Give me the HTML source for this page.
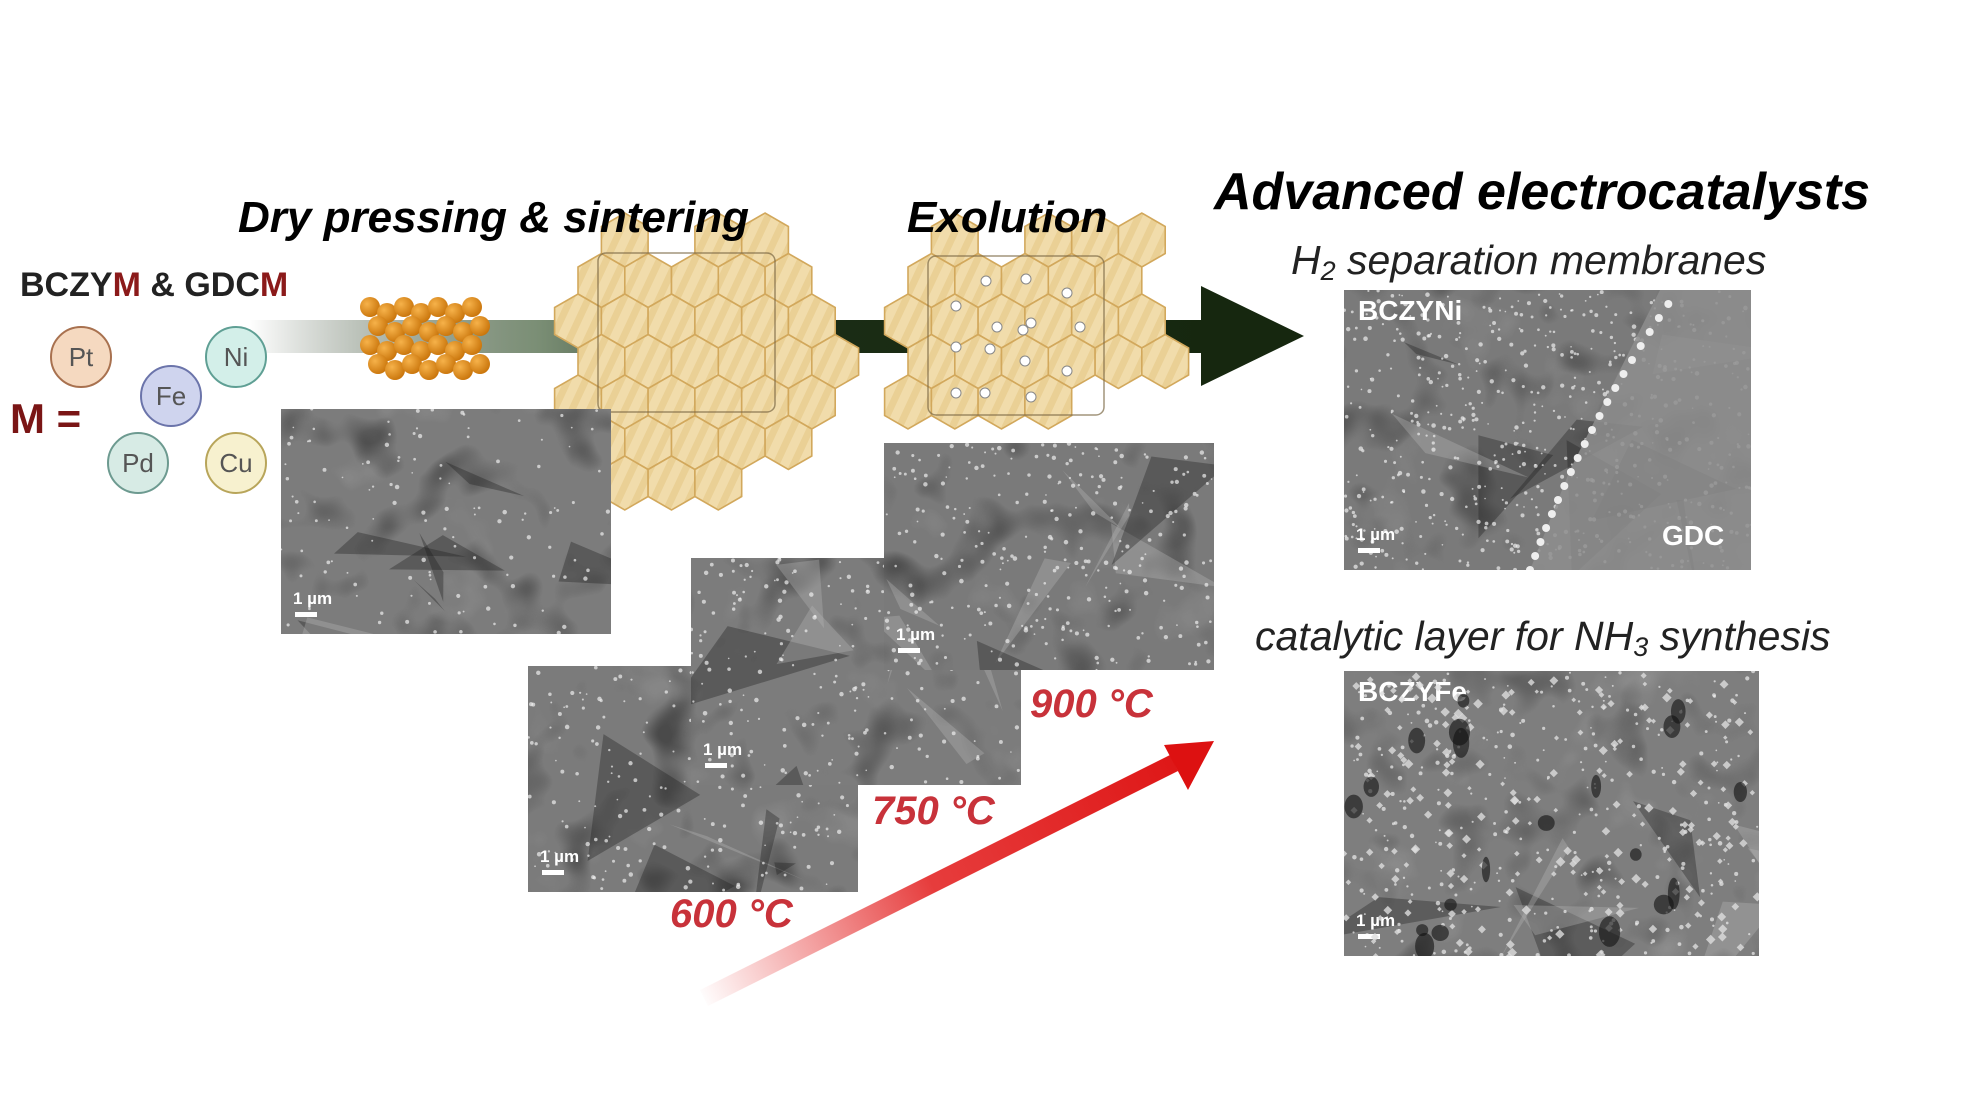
<!DOCTYPE html>
<html><head><meta charset="utf-8"><style>
html,body{margin:0;padding:0;background:#fff}
body{width:1981px;height:1116px;overflow:hidden;position:relative;font-family:"Liberation Sans",sans-serif}
.t{position:absolute;white-space:nowrap;line-height:1}
</style></head><body>
<svg id="s" width="1981" height="1116" viewBox="0 0 1981 1116" style="position:absolute;left:0;top:0">
<defs>
<linearGradient id="ga" x1="0" x2="1" y1="0" y2="0">
<stop offset="0" stop-color="#1b2d16" stop-opacity="0"/>
<stop offset="0.3" stop-color="#6c8266" stop-opacity="0.9"/>
<stop offset="0.55" stop-color="#1b2d16"/>
<stop offset="1" stop-color="#16270f"/>
</linearGradient>
<linearGradient id="gr" x1="700" y1="999" x2="1214" y2="741" gradientUnits="userSpaceOnUse">
<stop offset="0" stop-color="#e21a1a" stop-opacity="0"/>
<stop offset="0.45" stop-color="#e21a1a" stop-opacity="0.85"/>
<stop offset="1" stop-color="#dd1111"/>
</linearGradient>
<pattern id="hp" width="16" height="16" patternUnits="userSpaceOnUse" patternTransform="rotate(25)">
<rect width="16" height="16" fill="#f1dcab"/><rect width="7" height="16" fill="#ead095"/>
</pattern>
<filter id="n1" x="0" y="0" width="100%" height="100%">
<feTurbulence type="fractalNoise" baseFrequency="0.014" numOctaves="3" seed="3"/>
<feColorMatrix type="matrix" values="0 0 0 0 0.05  0 0 0 0 0.05  0 0 0 0 0.05  1.6 1.6 1.6 0 -1.0"/>
</filter>
<filter id="n2" x="0" y="0" width="100%" height="100%">
<feTurbulence type="fractalNoise" baseFrequency="0.02" numOctaves="2" seed="9"/>
<feColorMatrix type="matrix" values="0 0 0 0 0.85  0 0 0 0 0.85  0 0 0 0 0.85  1.4 1.4 1.4 0 -1.0"/>
</filter>
<radialGradient id="orb" cx="0.35" cy="0.35" r="0.7"><stop offset="0" stop-color="#f6b24a"/><stop offset="1" stop-color="#c9740a"/></radialGradient>
</defs>
<rect x="249" y="320" width="960" height="33" fill="url(#ga)"/>
<polygon points="1201,286 1304,336 1201,386" fill="#16270f"/>
<g id="hex1"></g><g id="hex2"></g>
<rect x="598" y="253" width="177" height="159" rx="8" fill="none" stroke="#7a6845" stroke-width="1.5" opacity="0.7"/>
<rect x="928" y="256" width="176" height="159" rx="8" fill="none" stroke="#7a6845" stroke-width="1.5" opacity="0.7"/>
<g id="dots2"></g>
<g id="orbs"></g>
<g font-family="Liberation Sans" font-size="26" text-anchor="middle" fill="#555">
<circle cx="81" cy="357" r="30" fill="#f5d9c0" stroke="#a8714f" stroke-width="2"/><text x="81" y="366">Pt</text>
<circle cx="236" cy="357" r="30" fill="#d3efe9" stroke="#5f9f94" stroke-width="2"/><text x="236" y="366">Ni</text>
<circle cx="171" cy="396" r="30" fill="#cfd4ee" stroke="#6b74aa" stroke-width="2"/><text x="171" y="405">Fe</text>
<circle cx="138" cy="463" r="30" fill="#d7ebe5" stroke="#6d9a90" stroke-width="2"/><text x="138" y="472">Pd</text>
<circle cx="236" cy="463" r="30" fill="#f7f1cf" stroke="#b8a55a" stroke-width="2"/><text x="236" y="472">Cu</text>
</g>
<g id="sems"></g>
<polygon points="700,990 1170,755 1178,771 708,1006" fill="url(#gr)"/>
<polygon points="1214,741 1164,745 1188,790" fill="#dd1111"/>
</svg>
<div class="t" style="left:1214px;top:166px;font-size:52px;font-weight:bold;font-style:italic">Advanced electrocatalysts</div>
<div class="t" style="left:1291px;top:240px;font-size:41px;font-style:italic;color:#222">H<span style="font-size:27px;vertical-align:-6px">2</span> separation membranes</div>
<div class="t" style="left:1255px;top:616px;font-size:41px;font-style:italic;color:#222">catalytic layer for NH<span style="font-size:27px;vertical-align:-6px">3</span> synthesis</div>
<div class="t" style="left:238px;top:196px;font-size:44px;font-weight:bold;font-style:italic">Dry pressing &amp; sintering</div>
<div class="t" style="left:907px;top:196px;font-size:44px;font-weight:bold;font-style:italic">Exolution</div>
<div class="t" style="left:20px;top:268px;font-size:34px;font-weight:bold;color:#222">BCZY<span style="color:#8b1a1a">M</span> &amp; GDC<span style="color:#8b1a1a">M</span></div>
<div class="t" style="left:10px;top:398px;font-size:42px;font-weight:bold;color:#7a1515">M =</div>
<div class="t" style="left:1030px;top:684px;font-size:40px;font-weight:bold;font-style:italic;color:#c8323a">900 °C</div>
<div class="t" style="left:872px;top:791px;font-size:40px;font-weight:bold;font-style:italic;color:#c8323a">750 °C</div>
<div class="t" style="left:670px;top:894px;font-size:40px;font-weight:bold;font-style:italic;color:#c8323a">600 °C</div>
<script>
var NS="http://www.w3.org/2000/svg";
function el(p,n,a){var e=document.createElementNS(NS,n);for(var k in a)e.setAttribute(k,a[k]);p.appendChild(e);return e;}
function hexes(g,x0,y0,cols,rows,skip){
 var R=27,w=R*Math.sqrt(3),dy=R*1.5;
 for(var r=0;r<rows;r++)for(var c=0;c<cols;c++){
  if(skip(c,r))continue;
  var cx=x0+c*w+(r%2?w/2:0), cy=y0+r*dy;
  var pts=[];for(var i=0;i<6;i++){var a=Math.PI/3*i+Math.PI/6;pts.push((cx+R*Math.cos(a)).toFixed(1)+","+(cy+R*Math.sin(a)).toFixed(1));}
  el(g,"polygon",{points:pts.join(" "),fill:"url(#hp)",stroke:"#d2a85c","stroke-width":"1.6"});
 }}
hexes(document.getElementById("hex1"),578,240,6,7,function(c,r){return (r==0&&(c==0||c==2||c==5))||(r==6&&(c>=4||c==0))||(r==5&&c==5)||(r==1&&c==5);});
hexes(document.getElementById("hex2"),908,240,6,5,function(c,r){return (r==0&&(c==0||c==2))||(r==4&&c>=4)||(r==1&&c==5);});
var d2=document.getElementById("dots2");
[[986,281],[1026,279],[1067,293],[956,306],[997,327],[1031,323],[1080,327],[956,347],[990,349],[1025,361],[1067,371],[956,393],[985,393],[1031,397],[1023,330]].forEach(function(p){el(d2,"circle",{cx:p[0],cy:p[1],r:5,fill:"#fff",stroke:"#888","stroke-width":1});});
var o=document.getElementById("orbs");
for(var i=0;i<28;i++){var c=i%7,r=Math.floor(i/7);el(o,"circle",{cx:370+c*17+(r%2)*8,cy:307+r*19+(c%2)*6,r:10,fill:"url(#orb)"});}
var S=document.getElementById("sems");var seed=7,cid=0;function rnd(){seed=(seed*9301+49297)%233280;return seed/233280;}
function sem(x,y,w,h,base,dots,label){
 var g=el(S,"g",{});
 var id="clp"+(cid++);var cp=el(g,"clipPath",{id:id});el(cp,"rect",{x:x,y:y,width:w,height:h});
 var gg=el(g,"g",{"clip-path":"url(#"+id+")"});
 el(gg,"rect",{x:x,y:y,width:w,height:h,fill:base});
 el(gg,"rect",{x:x,y:y,width:w,height:h,filter:"url(#n1)",opacity:0.7});
 el(gg,"rect",{x:x,y:y,width:w,height:h,filter:"url(#n2)",opacity:0.3});
 for(var i=0;i<8;i++){var px=x+rnd()*w,py=y+rnd()*h;el(gg,"polygon",{points:px+","+py+" "+(px+rnd()*140-70)+","+(py+rnd()*140)+" "+(px+rnd()*140)+","+(py+rnd()*70),fill:rnd()>0.5?"#b8b8b8":"#1e1e1e",opacity:0.35});}
 for(var i=0;i<dots;i++)el(gg,"circle",{cx:x+rnd()*w,cy:y+rnd()*h,r:0.8+rnd()*1.5,fill:"#eee",opacity:0.7});
 el(gg,"rect",{x:x+14,y:y+h-22,width:22,height:5,fill:"#fff"});
 var t=el(gg,"text",{x:x+12,y:y+h-30,"font-size":17,"font-weight":"bold",fill:"#fff","font-family":"Liberation Sans"});t.textContent="1 µm";
 if(label){var t2=el(gg,"text",{x:x+14,y:y+30,"font-size":28,"font-weight":"bold",fill:"#fff","font-family":"Liberation Sans"});t2.textContent=label;}
 return gg;}
sem(281,409,330,225,"#6a6a6a",120);
sem(528,666,330,226,"#666",200);
sem(691,558,330,227,"#6a6a6a",220);
sem(884,443,330,227,"#5e5e5e",280);
var n=sem(1344,290,407,280,"#606060",600,"BCZYNi");
el(n,"polygon",{points:"1660,290 1751,290 1751,570 1530,570 1570,470",fill:"#8e8e8e",opacity:0.85});
for(var i=0;i<20;i++)el(n,"circle",{cx:1530+i*5+i*i*0.12,cy:570-i*14,r:4,fill:"#eee"});
var tg=el(n,"text",{x:1662,y:545,"font-size":28,"font-weight":"bold",fill:"#fff","font-family":"Liberation Sans"});tg.textContent="GDC";
var fe=sem(1344,671,415,285,"#727272",300,"BCZYFe");
for(var i=0;i<220;i++){var px=1344+rnd()*415,py=671+rnd()*285,s=3+rnd()*4;el(fe,"rect",{x:px,y:py,width:s,height:s,fill:"#ddd",opacity:0.8,transform:"rotate(45 "+px+" "+py+")"});}
for(var i=0;i<20;i++){el(fe,"ellipse",{cx:1344+rnd()*415,cy:700+rnd()*250,rx:4+rnd()*7,ry:6+rnd()*10,fill:"#111",opacity:0.6});}
</script>
</body></html>
